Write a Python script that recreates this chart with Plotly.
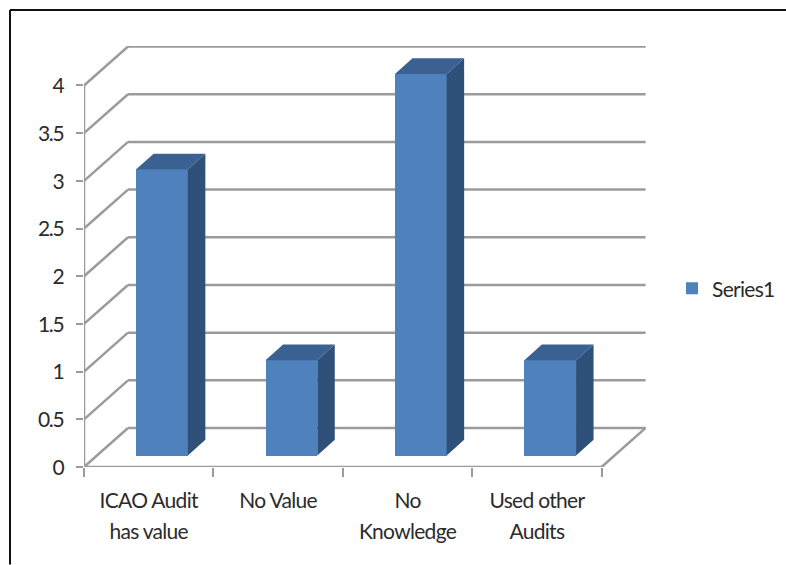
import plotly.graph_objects as go

categories = ["ICAO Audit", "has value"], ["No Value"], ["No", "Knowledge"], ["Used other", "Audits"]
values = [3, 1, 4, 1]
y_ticks = [0, 0.5, 1, 1.5, 2, 2.5, 3, 3.5, 4]
y_labels = ["0", "0.5", "1", "1.5", "2", "2.5", "3", "3.5", "4"]
series_name = "Series1"

# Page geometry of the plot box
W, H = 786, 565
LEFT, RIGHT, TOP, BOTTOM = 84, 646, 46, 467.5
PX_PER_CAT = 129.4
PX_PER_UNIT = 95.5
n = len(categories)

def cx(px): return px / PX_PER_CAT      # pixel offset -> x units
def cy(px): return px / PX_PER_UNIT     # pixel offset -> y units

# Oblique depth offsets
WALL_X, WALL_Y = cx(44), cy(39)
BAR_W = cx(51.7)
BAR_FRONT_X = cx(13.3)
BAR_FRONT_Y = cy(11.5)
DEPTH_X, DEPTH_Y = cx(17.5), cy(15.7)

GRID = "#9b9b9b"
FRONT = "#4F81BD"
SIDE = "#2F5078"
TOPC = "#3A6191"
TEXT = "#2b2b2b"
FONT = "Lato"
LABEL_PX = 21

def sized(s, spacing=-0.7):
    return f'<span style="font-size:{LABEL_PX}px;letter-spacing:{spacing}px">{s}</span>'

tick_text = ["<br>".join(sized(p) for p in parts) for parts in categories]
y_text = [sized(s, -1.2) for s in y_labels]

fig = go.Figure()

# Front faces
centers = [i + 0.5 + BAR_FRONT_X for i in range(n)]
fig.add_trace(go.Bar(
    x=centers, y=values, base=[BAR_FRONT_Y] * n, width=BAR_W,
    name=sized(series_name), marker=dict(color=FRONT, line=dict(width=0)),
    showlegend=True, hoverinfo="skip",
))

# Side and top faces
for c, v in zip(centers, values):
    r = c + BAR_W / 2
    l = c - BAR_W / 2
    t = BAR_FRONT_Y + v
    fig.add_trace(go.Scatter(
        x=[r, r + DEPTH_X, r + DEPTH_X, r, r],
        y=[BAR_FRONT_Y, BAR_FRONT_Y + DEPTH_Y, t + DEPTH_Y, t, BAR_FRONT_Y],
        mode="lines", fill="toself", fillcolor=SIDE, line=dict(width=0),
        showlegend=False, hoverinfo="skip",
    ))
    fig.add_trace(go.Scatter(
        x=[l, r, r + DEPTH_X, l + DEPTH_X, l],
        y=[t, t, t + DEPTH_Y, t + DEPTH_Y, t],
        mode="lines", fill="toself", fillcolor=TOPC, line=dict(width=0),
        showlegend=False, hoverinfo="skip",
    ))

# Gridlines: along the side wall and across the back wall, behind the bars
shapes = []
def seg(x0, y0, x1, y1, color=GRID, width=2.5):
    shapes.append(dict(type="line", xref="x", yref="y", x0=x0, y0=y0, x1=x1, y1=y1,
                       layer="below", line=dict(color=color, width=width)))

for t in y_ticks:
    seg(0, t, WALL_X, t + WALL_Y)
    seg(WALL_X, t + WALL_Y, n + WALL_X, t + WALL_Y)
seg(0, 0, 0, max(y_ticks))                      # front value axis
seg(0, 0, n, 0)                                 # front category axis
seg(n, 0, n + WALL_X, WALL_Y)                   # right floor edge

# Paper coordinates span the whole width right of the left margin
pw = RIGHT - LEFT
ph = BOTTOM - TOP
full_w = W - LEFT
def px_x(p): return (p - LEFT) / full_w
def px_y(p): return (BOTTOM - p) / ph

# Outer frame of the picture
shapes.append(dict(type="line", xref="paper", yref="paper",
                   x0=px_x(10), y0=px_y(10), x1=px_x(W), y1=px_y(10),
                   line=dict(color="#111111", width=2)))
shapes.append(dict(type="line", xref="paper", yref="paper",
                   x0=px_x(10), y0=px_y(10), x1=px_x(10), y1=px_y(H),
                   line=dict(color="#111111", width=2)))

fig.update_layout(
    width=W, height=H, autosize=False,
    margin=dict(l=LEFT, r=0, t=TOP, b=H - BOTTOM, pad=0),
    paper_bgcolor="white", plot_bgcolor="white",
    font=dict(family=FONT, color=TEXT, size=24),
    shapes=shapes, showlegend=True, bargap=0,
    legend=dict(x=px_x(672), y=px_y(289), xanchor="left", yanchor="middle",
                font=dict(family=FONT, size=21, color=TEXT),
                bgcolor="rgba(0,0,0,0)", itemwidth=30, traceorder="normal"),
    xaxis=dict(domain=[0, pw / full_w], range=[0, pw / PX_PER_CAT], tickmode="array",
               tickvals=[i + 0.5 for i in range(n)], ticktext=tick_text,
               showgrid=False, zeroline=False, showline=False, ticks="", ticklabelstandoff=16,
               tickfont=dict(family=FONT, size=24, color=TEXT),
               minor=dict(tickmode="array", tickvals=list(range(n + 1)), ticks="outside",
                          ticklen=9, tickwidth=2, tickcolor=GRID, showgrid=False)),
    yaxis=dict(range=[0, ph / PX_PER_UNIT], tickmode="array",
               tickvals=y_ticks, ticktext=y_text,
               showgrid=False, zeroline=False, showline=False, ticks="outside",
               ticklen=7, tickwidth=2, tickcolor=GRID, ticklabelstandoff=8,
               tickfont=dict(family=FONT, size=22, color=TEXT)),
)

fig.write_html("out.html", config=dict(displayModeBar=False),
               post_script="document.body.style.margin='0';")
